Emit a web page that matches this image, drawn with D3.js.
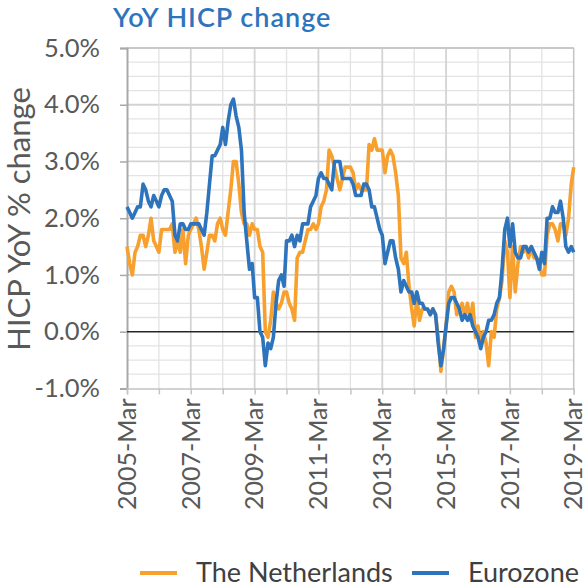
<!DOCTYPE html>
<html>
<head>
<meta charset="utf-8">
<script src="https://cdn.jsdelivr.net/npm/d3@7"></script>
<style>
  body { margin: 0; background: #fff; }
  svg text { font-family: Lato, "Open Sans", sans-serif; }
</style>
</head>
<body>
<svg id="chart" width="586" height="587"></svg>
<script>
// monthly YoY HICP, first value = 2005-Mar
const startMonth = new Date(2005, 2, 1);

const netherlands = [
  1.5, 1.2, 1.0, 1.4, 1.5, 1.7, 1.7, 1.5, 1.7, 2.0,
  1.6, 1.5, 1.4, 1.8, 1.8, 1.8, 1.8, 1.9, 1.4, 1.6, 1.4, 1.8,
  1.2, 1.7, 1.8, 1.9, 2.0, 1.8, 1.5, 1.1, 1.4, 1.7, 1.7, 1.6,
  1.9, 2.0, 1.8, 1.7, 2.1, 2.5, 3.0, 3.0, 2.6, 2.1, 1.9, 1.9,
  1.7, 1.9, 1.8, 1.8, 1.5, 1.4, 0.0, -0.1, 0.2, 0.7, 0.5, 0.4,
  0.5, 0.7, 0.7, 0.5, 0.4, 0.2, 1.3, 1.4, 1.4, 1.6, 1.8, 1.8,
  1.9, 1.8, 1.9, 2.2, 2.3, 2.5, 3.2, 3.1, 2.9, 2.7, 2.5, 2.7,
  2.9, 2.9, 2.9, 2.8, 2.5, 2.6, 2.5, 2.5, 2.5, 3.3, 3.2, 3.4,
  3.2, 3.2, 3.2, 2.8, 3.1, 3.2, 3.1, 2.8, 2.4, 1.3, 1.2, 1.4,
  0.8, 0.4, 0.1, 0.6, 0.2, 0.4, 0.4, 0.4, 0.3, 0.4, 0.3, -0.1,
  -0.7, -0.3, 0.1, 0.7, 0.8, 0.7, 0.3, 0.4, 0.5, 0.3, 0.5, 0.2,
  0.5, -0.1, 0.1, -0.2, 0.0, -0.2, -0.6, 0.0, -0.1, 0.4, 0.6, 0.9,
  1.6, 1.4, 0.6, 1.5, 0.7, 1.2, 1.5, 1.4, 1.5, 1.3, 1.5, 1.3,
  1.3, 1.2, 1.0, 1.0, 1.7, 1.9, 1.9, 1.8, 1.6, 1.9, 1.9, 1.7,
  2.0, 2.6, 2.9
];

const eurozone = [
  2.2, 2.1, 2.0, 2.1, 2.2, 2.2, 2.6, 2.5, 2.3, 2.2,
  2.4, 2.3, 2.2, 2.4, 2.5, 2.5, 2.4, 2.3, 1.7, 1.6, 1.9, 1.9,
  1.8, 1.8, 1.9, 1.9, 1.9, 1.9, 1.8, 1.7, 2.1, 2.6, 3.1, 3.1,
  3.2, 3.3, 3.6, 3.3, 3.7, 4.0, 4.1, 3.8, 3.6, 3.2, 2.1, 1.6,
  1.1, 1.2, 0.6, 0.6, 0.0, -0.1, -0.6, -0.2, -0.3, -0.1, 0.5, 0.9,
  1.0, 0.8, 1.6, 1.6, 1.7, 1.5, 1.7, 1.6, 1.9, 1.9, 1.9, 2.2,
  2.3, 2.4, 2.7, 2.8, 2.7, 2.7, 2.6, 2.5, 3.0, 3.0, 3.0, 2.7,
  2.7, 2.7, 2.7, 2.6, 2.4, 2.4, 2.4, 2.6, 2.6, 2.5, 2.2, 2.2,
  2.0, 1.8, 1.7, 1.2, 1.4, 1.6, 1.6, 1.3, 1.1, 0.7, 0.9, 0.8,
  0.7, 0.7, 0.5, 0.7, 0.5, 0.5, 0.4, 0.4, 0.3, 0.4, 0.3, -0.2,
  -0.6, -0.3, 0.1, 0.5, 0.6, 0.6, 0.5, 0.4, 0.2, 0.3, 0.2, 0.3,
  0.1, 0.0, -0.1, -0.3, -0.1, 0.0, 0.2, 0.2, 0.3, 0.5, 0.6, 1.1,
  1.8, 2.0, 1.5, 1.9, 1.4, 1.3, 1.3, 1.5, 1.5, 1.4, 1.5, 1.4,
  1.3, 1.1, 1.4, 1.2, 2.0, 2.0, 2.2, 2.1, 2.1, 2.3, 2.0, 1.5,
  1.4, 1.5, 1.4
];

const yTicks = [-1, 0, 1, 2, 3, 4, 5];
const xTickYears = [2005, 2007, 2009, 2011, 2013, 2015, 2017, 2019];
const seriesNames = ["The Netherlands", "Eurozone"];
const seriesColors = ["#f7a02e", "#2e74bc"];

const svg = d3.select("#chart");
const plotLeft = 127, plotRight = 573.7, plotTop = 48, plotBottom = 388.4;

const x = d3.scaleTime()
    .domain([startMonth, new Date(2019, 2, 1)])
    .range([plotLeft, plotRight]);
const y = d3.scaleLinear().domain([-1, 5]).range([plotBottom, plotTop]);

const dates = netherlands.map((v, i) => d3.timeMonth.offset(startMonth, i));

//----- grid -----
const grid = svg.append("g");
grid.selectAll("line.hminor")
    .data(d3.range(-1, 5.01, 0.25).filter(v => Math.abs(v - Math.round(v)) > 0.01))
    .join("line")
    .attr("x1", plotLeft).attr("x2", plotRight)
    .attr("y1", d => y(d)).attr("y2", d => y(d))
    .attr("stroke", "#e3e3e3").attr("stroke-width", 1.3);
grid.selectAll("line.hmajor")
    .data(yTicks.filter(v => v !== 0 && v !== -1))
    .join("line")
    .attr("x1", plotLeft).attr("x2", plotRight)
    .attr("y1", d => y(d)).attr("y2", d => y(d))
    .attr("stroke", "#d2d2d2").attr("stroke-width", 1.8);

const yearDates = d3.range(2006, 2019).map(yr => new Date(yr, 2, 1));
grid.selectAll("line.v")
    .data(yearDates)
    .join("line")
    .attr("x1", d => x(d)).attr("x2", d => x(d))
    .attr("y1", plotTop).attr("y2", plotBottom)
    .attr("stroke", d => d.getFullYear() % 2 ? "#d4d4d4" : "#e3e3e3")
    .attr("stroke-width", d => d.getFullYear() % 2 ? 1.8 : 1.3);

// plot border
svg.append("line").attr("x1", plotLeft).attr("x2", plotRight).attr("y1", plotTop).attr("y2", plotTop)
    .attr("stroke", "#c4c4c4").attr("stroke-width", 1.5);
svg.append("line").attr("x1", plotRight).attr("x2", plotRight).attr("y1", plotTop).attr("y2", plotBottom)
    .attr("stroke", "#c4c4c4").attr("stroke-width", 1.5);

//----- axes -----
const yAxis = svg.append("g")
    .attr("transform", `translate(${plotLeft},0)`)
    .call(d3.axisLeft(y).tickValues(yTicks).tickSize(7).tickPadding(20)
        .tickFormat(d => d.toFixed(1) + "%"));
yAxis.select(".domain").attr("stroke", "#a8a8a8").attr("stroke-width", 2);
yAxis.selectAll(".tick line").attr("stroke", "#a8a8a8").attr("stroke-width", 1.5);
yAxis.selectAll(".tick text")
    .attr("font-size", 25.5).attr("fill", "#595959")
    .style("font-family", "Lato, sans-serif");

const xAxis = svg.append("g")
    .attr("transform", `translate(0,${plotBottom})`)
    .call(d3.axisBottom(x)
        .tickValues(d3.range(2005, 2020).map(yr => new Date(yr, 2, 1)))
        .tickSize(6)
        .tickFormat(d => xTickYears.includes(d.getFullYear()) ? d3.timeFormat("%Y-%b")(d) : ""));
xAxis.select(".domain").attr("stroke", "#c4c4c4").attr("stroke-width", 1.5);
xAxis.selectAll(".tick line").attr("stroke", "#c4c4c4").attr("stroke-width", 1.5);
xAxis.selectAll(".tick text")
    .attr("font-size", 25).attr("fill", "#595959")
    .attr("text-anchor", "end")
    .attr("transform", "rotate(-90)")
    .attr("x", -10).attr("y", 0).attr("dy", "0.33em")
    .style("font-family", "Lato, sans-serif");

// zero line
svg.append("line").attr("x1", plotLeft).attr("x2", plotRight).attr("y1", y(0)).attr("y2", y(0))
    .attr("stroke", "#262626").attr("stroke-width", 1.5);

//----- lines -----
const line = d3.line()
    .x((d, i) => x(dates[i]))
    .y(d => y(d))
    .curve(d3.curveLinear);

[netherlands, eurozone].forEach((series, k) => {
    svg.append("path")
        .datum(series)
        .attr("d", line)
        .attr("fill", "none")
        .attr("stroke", seriesColors[k])
        .attr("stroke-width", 3.6)
        .attr("stroke-linejoin", "round");
});

//----- title & labels -----
svg.append("text")
    .attr("x", 113).attr("y", 27)
    .attr("font-size", 27).attr("font-weight", 600)
    .attr("letter-spacing", 1)
    .attr("fill", "#2e74bc")
    .text("YoY HICP change");

svg.append("text")
    .attr("transform", "translate(30,219) rotate(-90)")
    .attr("text-anchor", "middle")
    .attr("font-size", 31).attr("fill", "#595959")
    .text("HICP YoY % change");

//----- legend -----
const legendItems = [{x: 140, tx: 196}, {x: 412, tx: 468}];
legendItems.forEach((it, k) => {
    svg.append("line")
        .attr("x1", it.x).attr("x2", it.x + 37)
        .attr("y1", 573).attr("y2", 573)
        .attr("stroke", seriesColors[k]).attr("stroke-width", 4);
    svg.append("text")
        .attr("x", it.tx).attr("y", 582)
        .attr("font-size", 27).attr("fill", "#404040")
        .text(seriesNames[k]);
});
</script>
</body>
</html>
